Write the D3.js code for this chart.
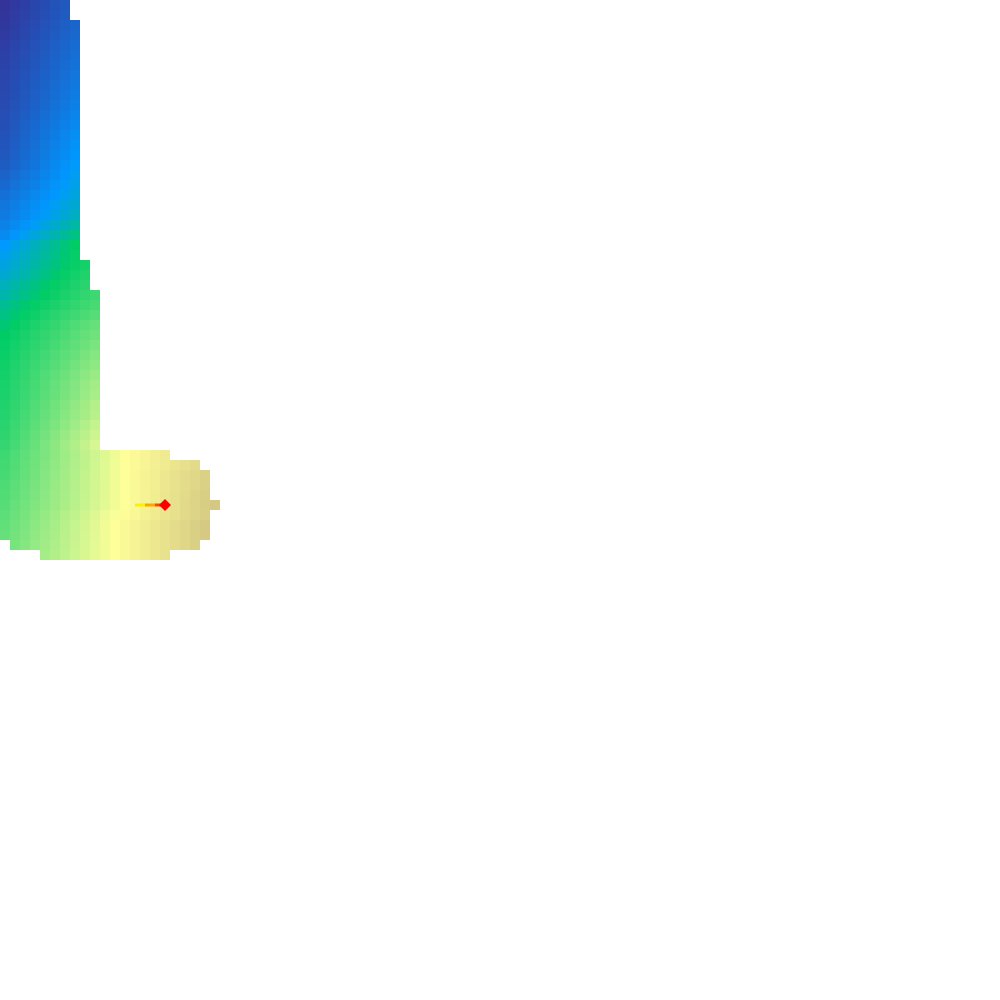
<!DOCTYPE html>
<html>
<head>
<meta charset="utf-8">
<script src="https://cdn.jsdelivr.net/npm/d3@7"></script>
<style>
html,body{margin:0;padding:0;background:#ffffff;}
svg{display:block;}
</style>
</head>
<body>
<div id="chart"></div>
<script>
// Grid of elevation values (0-100), one array per row; rowStarts gives the first column of each row
const rowStarts = [0,0,0,0,0,0,0,0,0,0, 0,0,0,0,0,0,0,0,0,0, 0,0,0,0,0,0,0,0,0,0, 0,0,0,0,0,0,0,0,0,0, 0,0,0,0,0,0,0,0,0,0, 0,0,0,0,1,4];
const rowValues = [
  [0,0.9,1.8,2.8,3.7,4.6,5.5],
  [0.4,1.3,2.2,3.1,4.1,5.0,5.9],
  [0.8,1.7,2.7,3.6,4.5,5.4,6.4,7.3],
  [1.2,2.1,3.1,4.0,5.0,5.9,6.9,7.8],
  [1.6,2.6,3.5,4.5,5.4,6.4,7.3,8.3],
  [2.0,3.0,3.9,4.9,5.9,6.9,7.8,8.8],
  [2.3,3.3,4.3,5.3,6.3,7.3,8.3,9.3],
  [2.6,3.6,4.7,5.7,6.7,7.7,8.8,9.8],
  [2.9,4.0,5.0,6.1,7.1,8.2,9.2,10.3],
  [3.2,4.3,5.4,6.5,7.5,8.6,9.7,10.8],
  [3.5,4.6,5.7,6.8,8.0,9.1,10.2,11.3],
  [3.9,5.1,6.2,7.4,8.5,9.7,10.8,12.0],
  [4.3,5.5,6.7,7.9,9.1,10.3,11.5,12.7],
  [4.7,5.9,7.2,8.4,9.7,10.9,12.2,13.4],
  [5.0,6.3,7.6,8.9,10.1,11.4,12.7,14.0],
  [5.5,6.8,8.1,9.4,10.7,12.0,13.3,14.6],
  [6.0,7.3,8.6,9.9,11.3,12.6,13.9,15.2],
  [7.0,8.3,9.5,10.8,12.0,13.3,14.5,15.8],
  [8.0,9.2,10.4,11.6,12.9,14.1,15.3,16.5],
  [9.0,10.2,11.3,12.5,13.7,14.9,16.0,17.2],
  [10.0,11.1,12.3,13.4,14.6,15.7,16.9,18.0],
  [10.5,11.7,12.9,14.1,15.4,16.6,17.8,19.0],
  [11.5,12.9,14.2,15.6,16.9,18.3,19.6,21.0],
  [13.0,14.4,15.9,17.3,18.7,20.1,21.6,23.0],
  [15.0,16.4,17.9,19.3,20.7,22.1,23.6,25.0],
  [16.0,17.4,18.7,20.1,21.4,22.8,24.1,25.5],
  [17.0,18.3,19.5,20.8,22.0,23.3,24.5,25.8,27.0],
  [18.0,19.3,20.5,21.8,23.0,24.3,25.5,26.8,28.0],
  [19.5,20.7,21.9,23.1,24.3,25.4,26.6,27.8,29.0],
  [20.5,21.7,22.8,24.0,25.2,26.3,27.5,28.7,29.8,31.0],
  [22.0,23.1,24.2,25.3,26.4,27.6,28.7,29.8,30.9,32.0],
  [23.0,24.2,25.3,26.5,27.7,28.8,30.0,31.2,32.3,33.5],
  [24.0,25.2,26.4,27.7,28.9,30.1,31.3,32.6,33.8,35.0],
  [25.0,26.2,27.4,28.7,29.9,31.1,32.3,33.6,34.8,36.0],
  [25.5,26.8,28.1,29.3,30.6,31.9,33.2,34.4,35.7,37.0],
  [26.0,27.3,28.7,30.0,31.3,32.7,34.0,35.3,36.7,38.0],
  [26.5,27.9,29.3,30.7,32.1,33.4,34.8,36.2,37.6,39.0],
  [27.0,28.4,29.9,31.3,32.8,34.2,35.7,37.1,38.6,40.0],
  [27.3,28.8,30.3,31.9,33.4,34.9,36.4,37.9,39.5,41.0],
  [27.6,29.1,30.7,32.2,33.8,35.3,36.9,38.4,40.0,41.5],
  [28.0,29.6,31.2,32.8,34.4,36.1,37.7,39.3,40.9,42.5],
  [28.5,30.1,31.7,33.3,34.9,36.6,38.2,39.8,41.4,43.0],
  [29.0,30.7,32.3,34.0,35.7,37.3,39.0,40.7,42.3,44.0],
  [29.5,31.2,32.9,34.7,36.4,38.1,39.8,41.6,43.3,45.0],
  [30.0,31.8,33.6,35.3,37.1,38.9,40.7,42.4,44.2,46.0],
  [31.0,32.6,34.2,35.8,37.3,38.9,40.5,42.1,43.7,45.2,46.8,48.4,50.0,50.8,51.5,52.3,53.0],
  [31.5,33.0,34.6,36.1,37.7,39.2,40.8,42.3,43.8,45.4,46.9,48.5,50.0,50.8,51.6,52.4,53.1,53.9,54.7,55.5],
  [32.0,33.5,35.0,36.5,38.0,39.5,41.0,42.5,44.0,45.5,47.0,48.5,50.0,50.9,51.8,52.6,53.5,54.4,55.3,56.1,57.0],
  [32.5,34.0,35.4,36.9,38.3,39.8,41.3,42.7,44.2,45.6,47.1,48.5,50.0,50.9,51.8,52.6,53.5,54.4,55.3,56.1,57.0],
  [33.0,34.4,35.8,37.3,38.7,40.1,41.5,42.9,44.3,45.8,47.2,48.6,50.0,50.9,51.9,52.8,53.8,54.7,55.6,56.6,57.5],
  [33.5,34.9,36.3,37.6,39.0,40.4,41.8,43.1,44.5,45.9,47.3,48.6,50.0,50.9,51.9,52.8,53.8,54.7,55.7,56.6,57.6,58.5],
  [34.0,35.4,36.8,38.2,39.6,41.0,42.5,43.9,45.3,46.7,48.1,49.5,50.3,51.2,52.1,53.0,53.9,54.8,55.7,56.6,57.5],
  [34.5,35.9,37.3,38.7,40.1,41.5,43.0,44.4,45.8,47.2,48.6,50.0,50.9,51.8,52.7,53.6,54.5,55.4,56.3,57.2,58.1],
  [35.0,36.4,37.7,39.1,40.5,41.8,43.2,44.5,45.9,47.3,48.6,50.0,50.9,51.8,52.7,53.6,54.5,55.4,56.3,57.2,58.1],
  [36.8,38.1,39.5,40.8,42.1,43.4,44.7,46.0,47.4,48.7,50.0,50.9,51.8,52.7,53.6,54.5,55.4,56.3,57.2],
  [41.1,42.4,43.6,44.9,46.2,47.5,48.7,50.0,50.9,51.8,52.7,53.6,54.5]
];

// Terrain-style colour map
const colorStops = [0, 15, 25, 50, 75, 100];
const colorRange = ["#333399", "#0099ff", "#00cc66", "#ffff99", "#805c54", "#ffffff"];

// Trajectory (grid cells) and its segment colours
const pathCols = [13, 14, 15, 16];
const pathRows = [50, 50, 50, 50];
const pathColors = ["#ffee00", "#ffa500", "#ff4500"];
const markerColor = "#ff0000";

const W = 1000, H = 1000, N = 100;

const x = d3.scaleLinear().domain([0, N]).range([0, W]);
const y = d3.scaleLinear().domain([0, N]).range([0, H]);
const color = d3.scaleLinear().domain(colorStops).range(colorRange).interpolate(d3.interpolateRgb).clamp(true);

const cells = [];
rowValues.forEach((vals, r) => {
  vals.forEach((v, i) => cells.push({ r: r, c: rowStarts[r] + i, v: v }));
});

const svg = d3.select("#chart").append("svg").attr("width", W).attr("height", H);

svg.append("g")
  .selectAll("rect")
  .data(cells)
  .join("rect")
  .attr("x", d => x(d.c))
  .attr("y", d => y(d.r))
  .attr("width", d => x(d.c + 1) - x(d.c))
  .attr("height", d => y(d.r + 1) - y(d.r))
  .attr("fill", d => color(d.v))
  .attr("shape-rendering", "crispEdges");

const pts = pathCols.map((c, i) => [x(c + 0.5), y(pathRows[i] + 0.5)]);
const segs = d3.range(pts.length - 1).map(i => ({ a: pts[i], b: pts[i + 1], col: pathColors[i] }));

svg.append("g")
  .selectAll("line")
  .data(segs)
  .join("line")
  .attr("x1", d => d.a[0]).attr("y1", d => d.a[1])
  .attr("x2", d => d.b[0]).attr("y2", d => d.b[1])
  .attr("stroke", d => d.col)
  .attr("stroke-width", 3);

const last = pts[pts.length - 1];
svg.append("path")
  .attr("d", d3.symbol().type(d3.symbolSquare).size(72)())
  .attr("transform", `translate(${last[0]},${last[1]}) rotate(45)`)
  .attr("fill", markerColor);
</script>
</body>
</html>
